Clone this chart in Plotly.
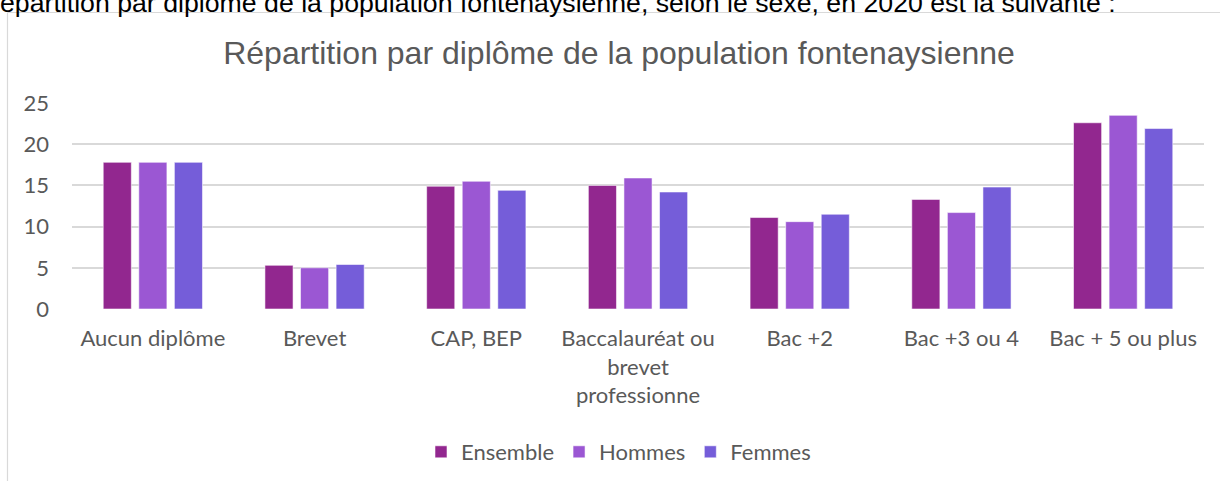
import plotly.graph_objects as go

categories = ["Aucun diplôme", "Brevet", "CAP, BEP", "Baccalauréat ou<br>brevet<br>professionne",
              "Bac +2", "Bac +3 ou 4", "Bac + 5 ou plus"]
ensemble = [17.8, 5.3, 14.9, 15.0, 11.1, 13.3, 22.6]
hommes = [17.8, 5.0, 15.5, 15.9, 10.6, 11.7, 23.5]
femmes = [17.8, 5.4, 14.4, 14.2, 11.5, 14.8, 21.9]
series_names = ["Ensemble", "Hommes", "Femmes"]
colors = ["#92278F", "#9B57D3", "#755DD9"]
title_text = "Répartition par diplôme de la population fontenaysienne"
intro_text = "La répartition par diplôme de la population fontenaysienne, selon le sexe, en 2020 est la suivante :"

TXT = "#595959"
GRID = "#D9D9D9"
CAL = "Lato, Carlito, Calibri, sans-serif"
ARIAL = "Liberation Sans, Arial, sans-serif"

W, H = 1221, 481
L, R, T, B = 72, 17, 103, 172

fig = go.Figure()
for name, vals, col in zip(series_names, [ensemble, hommes, femmes], colors):
    fig.add_trace(go.Bar(x=categories, y=vals, name=name,
                         marker=dict(color=col, line=dict(color="rgba(255,255,255,0.55)", width=1))))

plot_h = H - T - B
plot_w = W - L - R

def px_to_paper_x(px):
    return (px - L) / plot_w

def px_to_paper_y(py):
    return (H - B - py) / plot_h

fig.update_layout(
    width=W, height=H,
    margin=dict(l=L, r=R, t=T, b=B, pad=0),
    paper_bgcolor="white", plot_bgcolor="white",
    barmode="group", bargap=0.34, bargroupgap=0.21,
    title=dict(text=title_text, font=dict(family=ARIAL, size=32, color=TXT),
               x=619 / W, xanchor="center", xref="container",
               y=1 - 53 / H, yanchor="middle", yref="container"),
    xaxis=dict(showgrid=False, showline=False, ticks="", zeroline=False,
               tickfont=dict(family=CAL, size=22, color=TXT), tickangle=0,
               ticklabelstandoff=14),
    yaxis=dict(range=[0, 25], dtick=5, showgrid=True, gridcolor=GRID, gridwidth=1.5,
               zeroline=False, showline=False, ticks="",
               tickfont=dict(family=CAL, size=22, color=TXT), ticklabelstandoff=22),
    legend=dict(orientation="h", x=(W / 2 + 8) / W, xanchor="center", xref="container",
                y=1 - 452 / H, yanchor="middle", yref="container",
                font=dict(family=CAL, size=22, color=TXT), traceorder="normal"),
    font=dict(family=CAL, color=TXT),
    shapes=[
        dict(type="line", xref="paper", yref="paper",
             x0=px_to_paper_x(7.5), x1=px_to_paper_x(7.5),
             y0=px_to_paper_y(12.5), y1=px_to_paper_y(H + 5),
             line=dict(color=GRID, width=1.2)),
        dict(type="line", xref="paper", yref="paper",
             x0=px_to_paper_x(7.5), x1=px_to_paper_x(1220),
             y0=px_to_paper_y(12.5), y1=px_to_paper_y(12.5),
             line=dict(color=GRID, width=1.2)),
    ],
    annotations=[
        dict(text=intro_text, xref="paper", yref="paper", showarrow=False,
             x=px_to_paper_x(1118), xanchor="right",
             y=px_to_paper_y(3), yanchor="middle",
             font=dict(family=ARIAL, size=26.7, color="black")),
    ],
)

fig.write_html("out.html", config={"displayModeBar": False},
               post_script="document.body.style.margin='0';")
